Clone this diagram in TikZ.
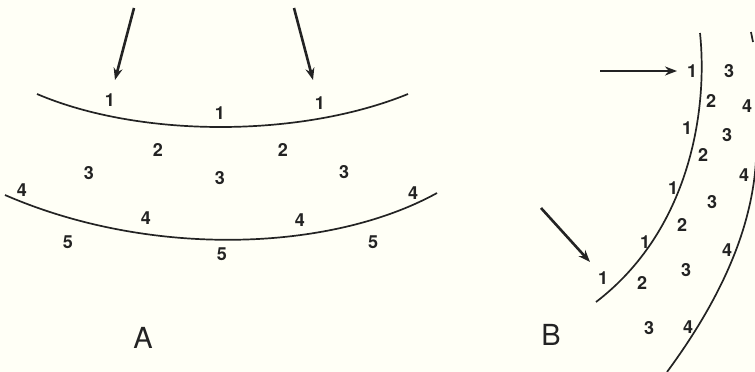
\documentclass[tikz,border=0pt]{standalone}
\usepackage{fontspec}
\setmainfont{TeX Gyre Heros}
\usetikzlibrary{arrows.meta}
\definecolor{paper}{RGB}{255,255,246}
\definecolor{ink}{RGB}{35,35,35}
\tikzset{
  num/.style={font=\fontsize{18}{18}\selectfont\bfseries, inner sep=0pt, text=ink},
  panel/.style={font=\fontsize{29}{29}\selectfont, inner sep=0pt, text=ink},
  surf/.style={line width=1.7pt, color=ink},
  ray/.style={line width=2.6pt, color=ink, -{Stealth[length=12pt,width=9pt]}}
}
\begin{document}
\begin{tikzpicture}[x=1pt,y=-1pt]
\fill[paper] (0,0) rectangle (755,372);
\useasboundingbox (0,0) rectangle (755,372);
% panel A
\coordinate (ra1) at (134,8);
\coordinate (ta1) at (115,80);
\coordinate (ra2) at (294,8);
\coordinate (ta2) at (313,80);
\draw[ray] (ra1) -- (ta1);
\draw[ray] (ra2) -- (ta2);
\draw[surf] (37,94) .. controls (140,138) and (300,138) .. (408,94);
\draw[surf] (5,195) .. controls (150,258) and (330,252) .. (437,193);
\node[num] (a11) at (110,100) {1};
\node[num] (a12) at (220,113) {1};
\node[num] (a13) at (320,103) {1};
\node[num] (a21) at (158,150) {2};
\node[num] (a22) at (283,150) {2};
\node[num] (a31) at (89,173) {3};
\node[num] (a32) at (220,178) {3};
\node[num] (a33) at (344,172) {3};
\node[num] (a41) at (22,190) {4};
\node[num] (a42) at (146,218) {4};
\node[num] (a43) at (300,220) {4};
\node[num] (a44) at (413,193) {4};
\node[num] (a51) at (68,242) {5};
\node[num] (a52) at (222,254) {5};
\node[num] (a53) at (373,242) {5};
\node[panel] (capA) at (143,338) {A};
% panel B
\coordinate (rb1) at (600,71);
\coordinate (tb1) at (677,71);
\coordinate (rb2) at (541,208);
\coordinate (tb2) at (590,262);
\draw[ray] (rb1) -- (tb1);
\draw[ray] (rb2) -- (tb2);
\draw[surf] (700,33) .. controls (708,110) and (690,230) .. (596,302);
\draw[surf] (751,32) -- (753,42);
\draw[surf] (756,160) .. controls (752,230) and (720,300) .. (667,372);
\node[num] (b11) at (692,71) {1};
\node[num] (b31) at (729,71) {3};
\node[num] (b21) at (711,101) {2};
\node[num] (b41) at (747,106) {4};
\node[num] (b12) at (687,128) {1};
\node[num] (b32) at (727,135) {3};
\node[num] (b22) at (703,155) {2};
\node[num] (b42) at (744,175) {4};
\node[num] (b13) at (673,188) {1};
\node[num] (b33) at (712,202) {3};
\node[num] (b23) at (682,225) {2};
\node[num] (b43) at (727,250) {4};
\node[num] (b14) at (645,242) {1};
\node[num] (b34) at (686,270) {3};
\node[num] (b15) at (603,278) {1};
\node[num] (b24) at (642,283) {2};
\node[num] (b35) at (649,328) {3};
\node[num] (b44) at (688,327) {4};
\node[panel] (capB) at (551,335) {B};
\end{tikzpicture}
\end{document}
